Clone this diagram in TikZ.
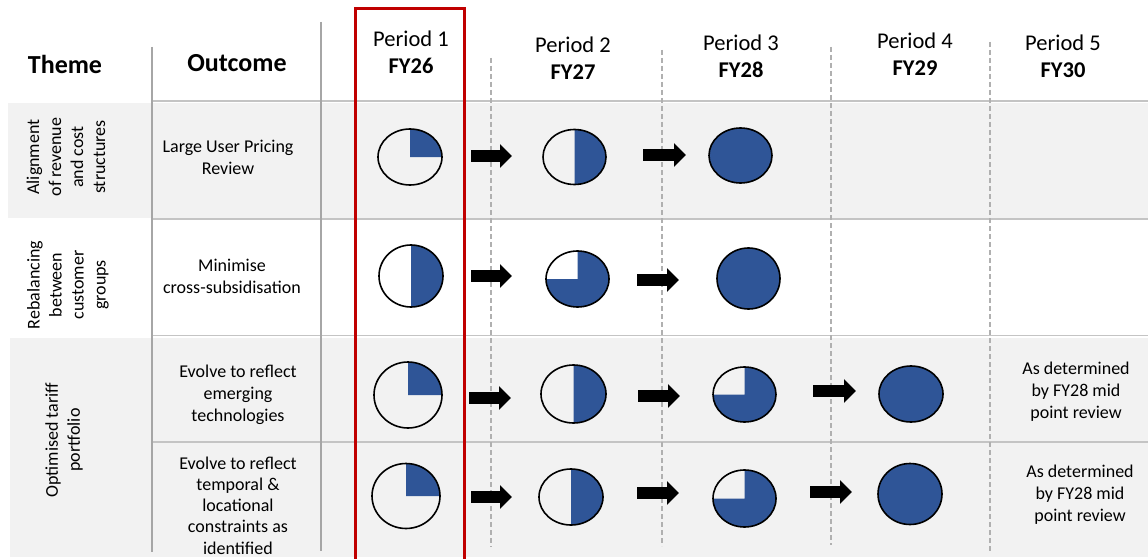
\documentclass[tikz,border=0pt]{standalone}
\usepackage{fontspec}
\setmainfont{Carlito}
\usetikzlibrary{arrows.meta,shapes.geometric}

\definecolor{pieblue}{HTML}{2F5597}
\definecolor{rowgray}{HTML}{F2F2F2}
\definecolor{rulegray}{HTML}{C4C4C4}
\definecolor{solidgray}{HTML}{A6A6A6}
\definecolor{dashgray}{HTML}{B0B0B0}
\definecolor{hilite}{HTML}{C00000}

% pie: name, x, y, x radius, y radius, end angle (filled clockwise from 12 o'clock)
\newcommand\pieat[6]{%
  \fill[pieblue] (#2,#3) -- ++(0pt,#5pt)
    arc[start angle=90, end angle=#6, x radius=#4pt, y radius=#5pt] -- cycle;
  \node[piering, minimum width=2*#4pt, minimum height=2*#5pt] (#1) at (#2,#3) {};
}
% block arrow placed relative to the pie it leaves: node, start dx, end dx, dy
\newcommand\blockfrom[4]{%
  \draw[blockarr] ([shift={(#2,#4)}]#1.center) -- ([shift={(#3,#4)}]#1.center);
}

\begin{document}
\begin{tikzpicture}[x=1pt,y=-1pt,
  txt/.style={font=\fontsize{18}{22}\selectfont, align=center, inner sep=0pt},
  headtxt/.style={font=\fontsize{26}{30}\selectfont\bfseries, inner sep=0pt},
  pertxt/.style={font=\fontsize{22.5}{27}\selectfont, align=center, inner sep=0pt},
  piering/.style={ellipse, draw=black, line width=1.6pt, inner sep=0pt, outer sep=0pt},
  blockarr/.style={line width=12pt, -{Triangle[length=12pt,width=23pt]}},
  hrule/.style={draw=rulegray, line width=1.5pt},
  vrule/.style={draw=solidgray, line width=1.5pt},
  drule/.style={draw=dashgray, line width=1.2pt, dash pattern=on 5pt off 3pt},
]
\useasboundingbox (0,0) rectangle (1148,559);
\fill[white] (0,0) rectangle (1148,559);

% shaded bands
\fill[rowgray] (8,103) rectangle (1148,218);
\fill[rowgray] (10,338) rectangle (1148,557);

% table rules
\draw[hrule] (152,101) -- (1148,101);
\draw[hrule] (152,219) -- (1148,219);
\draw[hrule] (152,335.5) -- (1148,335.5);
\draw[hrule] (152,442) -- (1148,442);
\draw[vrule] (152,47) -- (152,552);
\draw[vrule] (321,22) -- (321,551);
\draw[drule] (491,58) -- (491,547);
\draw[drule] (662,50) -- (662,546);
\draw[drule] (831,47) -- (831,545);
\draw[drule] (990,42) -- (990,552);

% column headings
\node[headtxt] (hTheme) at (65,64) {Theme};
\node[headtxt] (hOutcome) at (237,63) {Outcome};
\node[pertxt] (hP1) at (411,52.5) {Period 1\\\textbf{FY26}};
\node[pertxt] (hP2) at (573,58) {Period 2\\\textbf{FY27}};
\node[pertxt] (hP3) at (741,56) {Period 3\\\textbf{FY28}};
\node[pertxt] (hP4) at (915,54) {Period 4\\\textbf{FY29}};
\node[pertxt] (hP5) at (1063,56) {Period 5\\\textbf{FY30}};

% themes
\node[txt, rotate=90] (t1) at (66,157) {Alignment\\of revenue\\and cost\\structures};
\node[txt, rotate=90] (t2) at (68,285) {Rebalancing\\between\\customer\\groups};
\node[txt, rotate=90] (t3) at (64,440) {Optimised tariff\\portfolio};

% outcomes
\node[txt] (o1) at (228,157) {Large User Pricing\\Review};
\node[txt] (o2) at (232,276) {Minimise\\cross-subsidisation};
\node[txt] (o3) at (238,395) {Evolve to reflect\\emerging\\technologies};
\node[txt, font=\fontsize{18}{21.3}\selectfont] (o4) at (238,505.5)
  {Evolve to reflect\\temporal \&\\locational\\constraints as\\identified};

% period 5 notes
\node[txt] (n3) at (1076,392) {As determined\\by FY28 mid\\point review};
\node[txt] (n4) at (1080,495) {As determined\\by FY28 mid\\point review};

% progress pies
\pieat{c11}{410}{157}{32}{28}{0}
\pieat{c12}{574.5}{157}{31.5}{27.5}{-90}
\pieat{c13}{740.5}{155.5}{31.5}{27.5}{-270}
\pieat{c21}{411}{276}{32}{31}{-90}
\pieat{c22}{577.5}{279}{31.5}{28}{-180}
\pieat{c23}{748.5}{278.5}{31.5}{30.5}{-270}
\pieat{c31}{408}{395}{34}{33}{0}
\pieat{c32}{573.5}{394}{32.5}{29}{-90}
\pieat{c33}{744.5}{394.5}{31.5}{27.5}{-180}
\pieat{c34}{911}{394}{32}{28}{-270}
\pieat{c41}{406}{496}{34}{32.5}{0}
\pieat{c42}{571}{497}{32}{28}{-90}
\pieat{c43}{744.5}{498.5}{31.5}{28.5}{-180}
\pieat{c44}{910}{494}{32}{30.5}{-270}

% progression arrows
\blockfrom{c11}{61}{102}{-1}
\blockfrom{c12}{68.5}{111.5}{-2}
\blockfrom{c21}{60}{101}{0}
\blockfrom{c22}{59.5}{101.5}{1}
\blockfrom{c31}{61}{103}{3}
\blockfrom{c32}{64.5}{106.5}{2}
\blockfrom{c33}{68.5}{111.5}{-3.5}
\blockfrom{c41}{65}{106}{1}
\blockfrom{c42}{66}{108}{-4}
\blockfrom{c43}{65.5}{107.5}{-6.5}

% current period highlight
\draw[hilite, line width=3pt] (355.5,562) -- (355.5,9) -- (464,9) -- (464,562);
\end{tikzpicture}
\end{document}
